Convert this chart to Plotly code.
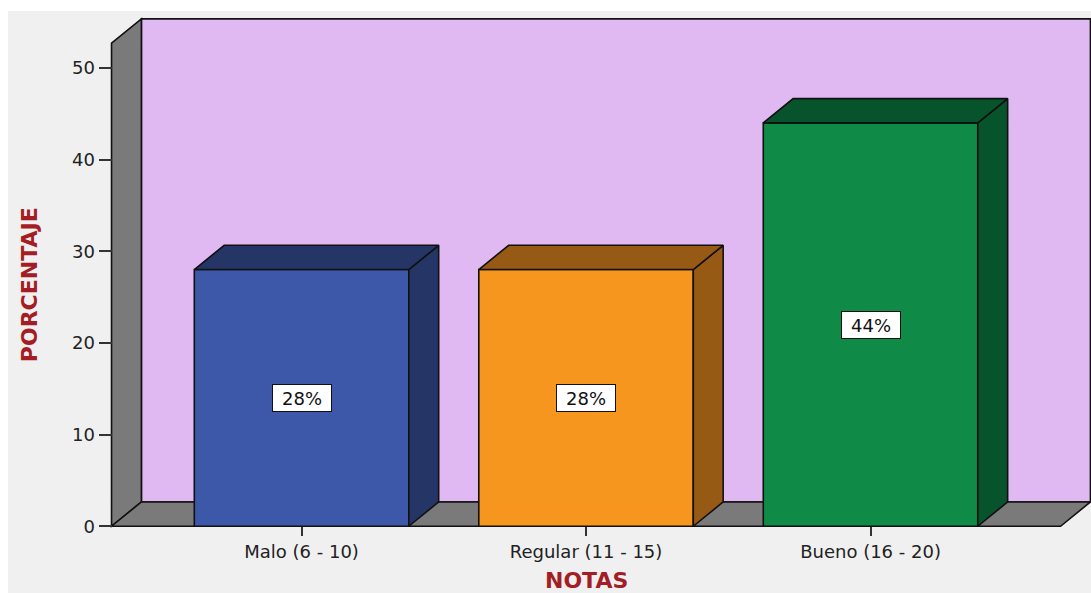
import plotly.graph_objects as go

# ---- data -------------------------------------------------------------
categories = ["Malo (6 - 10)", "Regular (11 - 15)", "Bueno (16 - 20)"]
porcentajes = [28, 28, 44]
y_ticks = [0, 10, 20, 30, 40, 50]

front_colors = ["#3d58a9", "#f7961f", "#0f8a47"]
shade_colors = ["#243566", "#975a14", "#07532b"]

# ---- 3D box geometry (in axis units) ----------------------------------
Y_TOP = 52.7          # height of the front y-axis
DX = 0.105            # depth offset along x (category units)
DY = 2.65             # depth offset along y (percentage units)
BAR_W = 0.754
X_LEFT = -0.668
X_RIGHT = len(categories) - 1 + 0.668

XR = [-0.705, X_RIGHT + DX + 0.002]
YR = [-0.3, Y_TOP + DY + 0.2]

WALL = "#7a7a7a"
BACK = "#e0b9f3"
EDGE = "#111111"
TITLE_RED = "#a51d24"

positions = list(range(len(categories)))

fig = go.Figure()

# side and top faces of each bar
for i, v in enumerate(porcentajes):
    hw = BAR_W / 2
    c = positions[i]
    side_x = [c + hw, c + hw + DX, c + hw + DX, c + hw, c + hw]
    side_y = [0, DY, v + DY, v, 0]
    top_x = [c - hw, c + hw, c + hw + DX, c - hw + DX, c - hw]
    top_y = [v, v, v + DY, v + DY, v]
    for xs, ys in ((side_x, side_y), (top_x, top_y)):
        fig.add_trace(go.Scatter(
            x=xs, y=ys, mode="lines", fill="toself",
            fillcolor=shade_colors[i],
            line=dict(color=EDGE, width=1.6),
            hoverinfo="skip", showlegend=False,
        ))

# front faces
fig.add_trace(go.Bar(
    x=positions, y=porcentajes, width=BAR_W,
    marker=dict(color=front_colors, line=dict(color=EDGE, width=1.6)),
    showlegend=False,
    hovertemplate="%{y}%<extra></extra>",
))

shapes = [
    # page background
    dict(type="rect", xref="paper", yref="paper",
         x0=(8 - 101) / 990, x1=1.0, y0=-0.13, y1=(529 - 11) / 512,
         fillcolor="#f0f0f0", line=dict(width=0), layer="below"),
    # back wall
    dict(type="rect", xref="x", yref="y",
         x0=X_LEFT + DX, x1=X_RIGHT + DX, y0=DY, y1=Y_TOP + DY,
         fillcolor=BACK, line=dict(color=EDGE, width=1.6), layer="below"),
    # left wall
    dict(type="path", xref="x", yref="y",
         path=(f"M {X_LEFT},0 L {X_LEFT + DX},{DY} L {X_LEFT + DX},{Y_TOP + DY} "
               f"L {X_LEFT},{Y_TOP} Z"),
         fillcolor=WALL, line=dict(color=EDGE, width=1.6), layer="below"),
    # floor
    dict(type="path", xref="x", yref="y",
         path=(f"M {X_LEFT},0 L {X_RIGHT},0 L {X_RIGHT + DX},{DY} "
               f"L {X_LEFT + DX},{DY} Z"),
         fillcolor=WALL, line=dict(color=EDGE, width=1.6), layer="below"),
]

annotations = []
for i, v in enumerate(porcentajes):
    annotations.append(dict(
        x=positions[i], y=v / 2, xref="x", yref="y",
        text=f"{v}%", showarrow=False,
        font=dict(family="DejaVu Sans", size=18, color="#111"),
        bgcolor="white", bordercolor=EDGE, borderwidth=1, borderpad=2,
        width=54, height=22,
    ))

annotations.append(dict(
    x=1, y=(529 - 580) / 512, xref="x", yref="paper",
    text="<b>NOTAS</b>", showarrow=False, yanchor="middle",
    font=dict(family="DejaVu Sans", size=22, color=TITLE_RED),
))
annotations.append(dict(
    x=(29.5 - 101) / 990, y=Y_TOP / 2, xref="paper", yref="y",
    text="<b>PORCENTAJE</b>", showarrow=False, textangle=-90,
    xanchor="center", yanchor="middle",
    font=dict(family="DejaVu Sans", size=22, color=TITLE_RED),
))

fig.update_layout(
    width=1091, height=593,
    margin=dict(l=101, r=0, t=17, b=64),
    paper_bgcolor="white",
    plot_bgcolor="rgba(0,0,0,0)",
    shapes=shapes,
    annotations=annotations,
    xaxis=dict(
        range=XR, tickvals=positions, ticktext=categories,
        ticks="outside", ticklen=9, tickwidth=1.5, tickcolor="#333",
        showgrid=False, zeroline=False, showline=False,
        anchor="free", position=(0 - YR[0]) / (YR[1] - YR[0]),
        tickfont=dict(family="DejaVu Sans", size=18, color="#222"),
        fixedrange=True,
    ),
    yaxis=dict(
        range=YR, tickvals=y_ticks,
        ticks="outside", ticklen=13, tickwidth=1.5, tickcolor="#333",
        showgrid=False, zeroline=False, showline=False,
        anchor="free", position=(X_LEFT - XR[0]) / (XR[1] - XR[0]),
        tickfont=dict(family="DejaVu Sans", size=18, color="#222"),
        fixedrange=True,
    ),
)

fig.write_html("out.html")
